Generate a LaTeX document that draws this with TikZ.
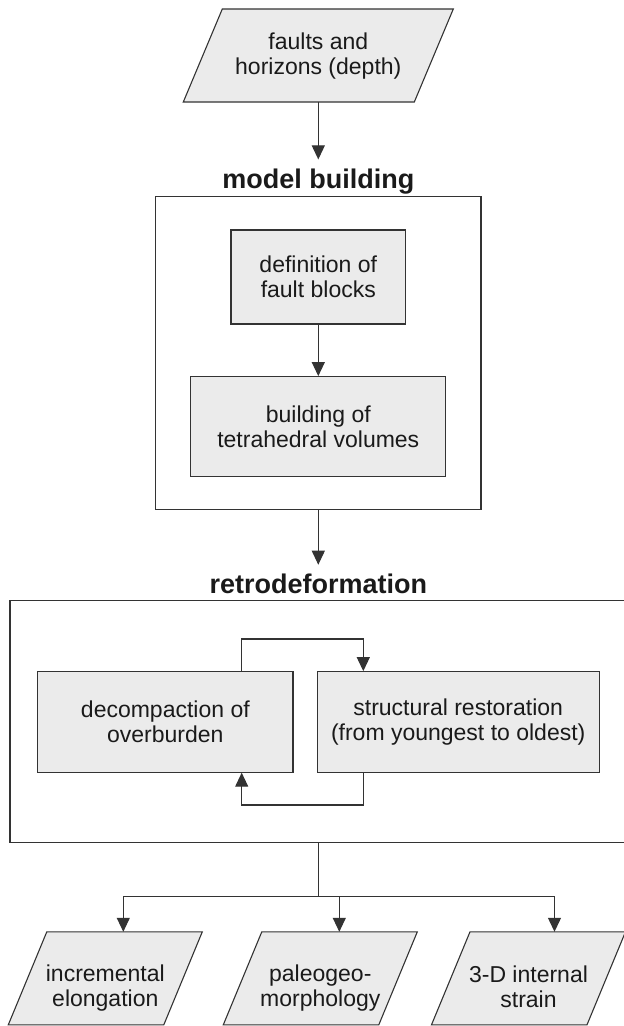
\documentclass[tikz,border=0pt]{standalone}
\usepackage{fontspec}
\setmainfont{Liberation Sans}
\usetikzlibrary{arrows.meta,calc}
\definecolor{boxfill}{HTML}{EBEBEB}
\definecolor{linec}{HTML}{333333}
\definecolor{textc}{HTML}{1A1A1A}
\begin{document}
\begin{tikzpicture}[x=1pt,y=-1pt,
  every node/.style={text=textc},
  body/.style={font=\fontsize{23}{25}\selectfont, align=center, inner sep=0pt},
  proc/.style={body, draw=linec, fill=boxfill, line width=1.1pt, rectangle},
  outerbox/.style={draw=linec, line width=1.1pt, rectangle, inner sep=0pt},
  pbox/.style={rectangle, inner sep=0pt, outer sep=0pt},
  parashape/.style={draw=linec, fill=boxfill, line width=1.1pt, line join=miter},
  head/.style={font=\fontsize{27}{30}\selectfont\bfseries, inner sep=0pt, outer sep=9pt},
  conn/.style={draw=linec, line width=1.1pt},
  arr/.style={conn, -{Triangle[length=14pt,width=13pt]}},
]
\useasboundingbox (0,0) rectangle (624,1026);

% source parallelogram
\node[pbox, minimum width=270, minimum height=93] (src) at (318.3,55.5) {};
\filldraw[parashape] (src.south west) -- ([xshift=-39]src.south east) -- (src.north east) -- ([xshift=39]src.north west) -- cycle;
\node[body] (srct) at ([yshift=-1]src.center) {faults and\\horizons (depth)};

\node[head, anchor=base] (mbh) at (318.3,188) {model building};
\node[outerbox, minimum width=325.3, minimum height=312.6] (mbox) at (318.3,353) {};
\node[proc, minimum width=174.7, minimum height=94] (def) at (318.3,277) {definition of\\fault blocks};
\node[proc, minimum width=255, minimum height=99.5] (tet) at (318.3,426.4) {building of\\tetrahedral volumes};
\node[head, anchor=base] (rdh) at (318.3,593.3) {retrodeformation};
\node[outerbox, minimum width=616.6, minimum height=242] (rbox) at (318.3,721.7) {};
\node[proc, minimum width=255.3, minimum height=100.3] (dec) at (165.35,722) {decompaction of\\overburden};
\node[proc, minimum width=281.7, minimum height=100.6] (res) at (458.2,722) {structural restoration\\(from youngest to oldest)};

% output parallelograms
\node[pbox, minimum width=194, minimum height=93] (p1) at (105.3,978.3) {};
\node[pbox, minimum width=194, minimum height=93] (p2) at (320.3,978.3) {};
\node[pbox, minimum width=194, minimum height=93] (p3) at (528.5,978.3) {};
\foreach \p in {p1,p2,p3}{
  \filldraw[parashape] (\p.south west) -- ([xshift=-38.5]\p.south east) -- (\p.north east) -- ([xshift=38.5]\p.north west) -- cycle;
}
\node[body] (t1) at ([yshift=-10]p1.center) {incremental\\elongation};
\node[body] (t2) at ([yshift=-10]p2.center) {paleogeo-\\morphology};
\node[body] (t3) at ([yshift=-8]p3.center) {3-D internal\\strain};

\draw[arr] (src.south) -- (mbh.north);
\draw[arr] (def) -- (tet);
\draw[arr] (mbox.south) -- (rdh.north);

\coordinate (lt) at (241.7,639);
\coordinate (rt) at (363.3,639);
\coordinate (rbm) at (363.3,805);
\coordinate (lbm) at (241.7,805);
\draw[arr] (dec.north -| lt) -- (lt) -- (rt) -- (rt |- res.north);
\draw[arr] (res.south -| rbm) -- (rbm) -- (lbm) -- (lbm |- dec.south);

\coordinate (j) at (318.3,896.7);
\coordinate (jl) at (123.3,896.7);
\coordinate (jm) at (339.3,896.7);
\coordinate (jr) at (554.5,896.7);
\draw[conn] (rbox.south) -- (j);
\draw[arr] (j) -- (jl) -- (jl |- p1.north);
\draw[arr] (j) -- (jr) -- (jr |- p3.north);
\draw[arr] (jm) -- (jm |- p2.north);
\end{tikzpicture}
\end{document}
